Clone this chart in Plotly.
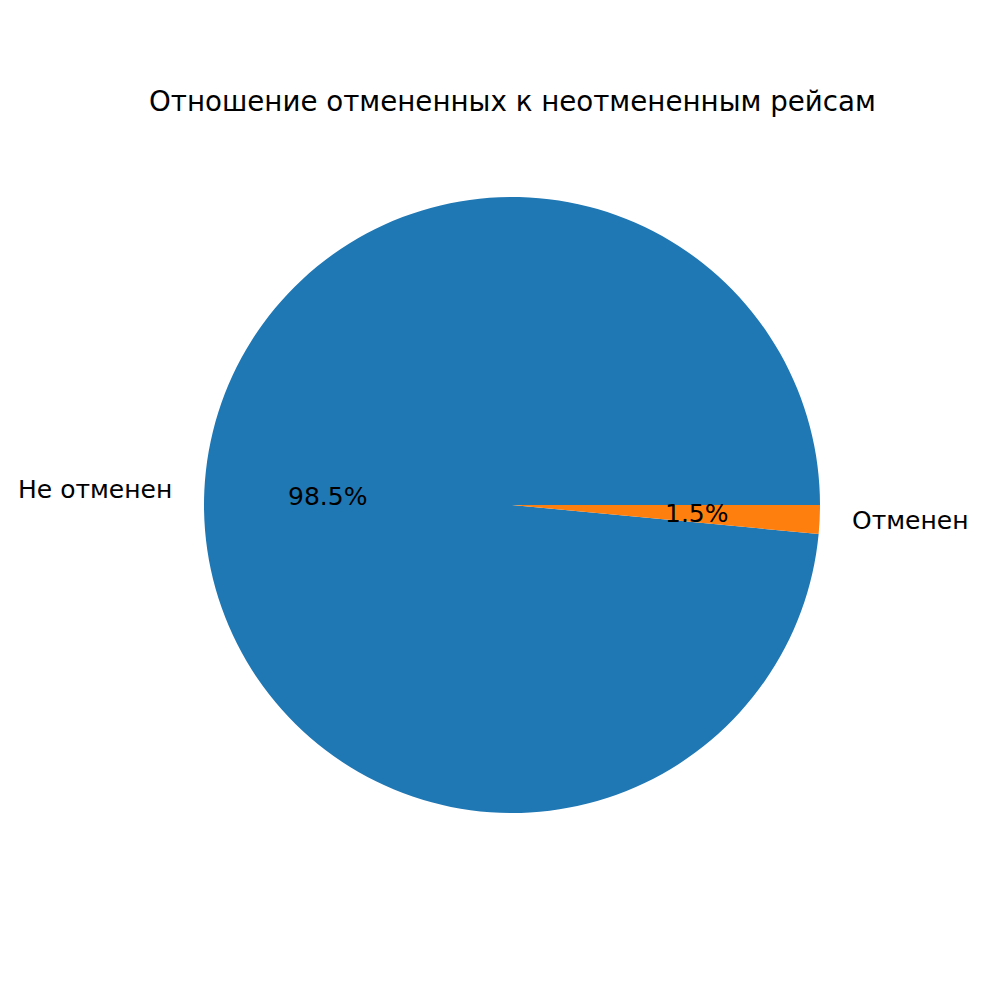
import math
import plotly.graph_objects as go

labels = ["Не отменен", "Отменен"]
values = [98.5, 1.5]
colors = ["#1f77b4", "#ff7f0e"]
title = "Отношение отмененных к неотмененным рейсам"

W, H = 1000, 1000
OFF = 8  # page body margin in the browser
cx, cy, r = 512 - OFF, 505 - OFF, 308  # pixel geometry of pie (from top-left)

dom_x = [(cx - r) / W, (cx + r) / W]
dom_y = [(H - cy - r) / H, (H - cy + r) / H]

total = sum(values)
# matplotlib style: first wedge starts at 3 o'clock and runs counterclockwise
rotation = 90 + 360 * (1 - values[0] / total)

fig = go.Figure(go.Pie(
    labels=labels, values=values, sort=False,
    direction="counterclockwise", rotation=rotation,
    marker=dict(colors=colors, line=dict(width=0)),
    textinfo="none", hoverinfo="label+percent",
    domain=dict(x=dom_x, y=dom_y), showlegend=False,
))

FONT = "DejaVu Sans"
annotations = []
start = 0.0
for lab, v in zip(labels, values):
    frac = v / total
    mid = (start + frac / 2) * 2 * math.pi
    start += frac
    ca, sa = math.cos(mid), math.sin(mid)
    px = (cx + 0.6 * r * ca) / W
    py = (H - cy + 0.6 * r * sa) / H
    annotations.append(dict(x=px, y=py, xref="paper", yref="paper",
                            text=f"{frac*100:.1f}%", showarrow=False,
                            xanchor="center", yanchor="middle",
                            font=dict(family=FONT, size=25, color="black")))
    lx = (cx + 1.1 * r * ca) / W
    ly = (H - cy + 1.1 * r * sa) / H
    annotations.append(dict(x=lx, y=ly, xref="paper", yref="paper",
                            text=lab, showarrow=False,
                            xanchor="right" if ca < 0 else "left", yanchor="middle",
                            font=dict(family=FONT, size=25, color="black")))

annotations.append(dict(x=(512 - OFF) / W, y=(H - 102 + OFF) / H, xref="paper", yref="paper",
                        text=title, showarrow=False, xanchor="center", yanchor="middle",
                        font=dict(family=FONT, size=27.7, color="black")))

fig.update_layout(
    width=W, height=H, margin=dict(l=0, r=0, t=0, b=0),
    paper_bgcolor="white", plot_bgcolor="white",
    annotations=annotations,
)
fig.write_html("out.html")
